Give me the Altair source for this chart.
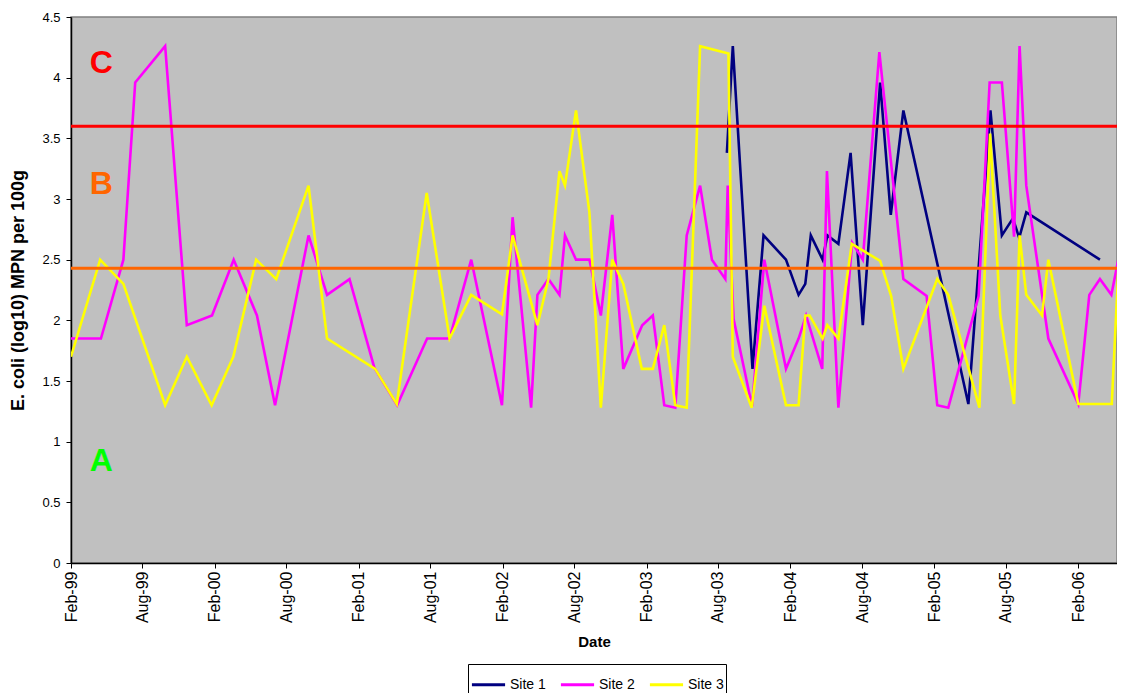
import altair as alt
import pandas as pd

# ---------------- data ----------------
site1_dates = ["2003-08-24", "2003-09-08", "2003-10-28", "2003-11-25", "2004-01-21", "2004-02-22",
               "2004-03-10", "2004-03-24", "2004-04-23", "2004-05-05", "2004-06-02", "2004-07-03",
               "2004-08-03", "2004-09-16", "2004-10-13", "2004-11-14", "2005-04-28", "2005-06-23",
               "2005-07-22", "2005-08-19", "2005-09-04", "2005-09-22", "2006-03-28"]
site1_values = [3.38, 4.26, 1.60, 2.70, 2.50, 2.21, 2.30, 2.70, 2.50, 2.70, 2.63, 3.38,
                1.96, 3.96, 2.87, 3.73, 1.31, 3.73, 2.70, 2.84, 2.68, 2.89, 2.50]

site2_dates = ["1999-02-01", "1999-04-18", "1999-06-14", "1999-07-14", "1999-09-28", "1999-11-22",
               "2000-01-25", "2000-03-20", "2000-05-18", "2000-07-03", "2000-09-26", "2000-11-12",
               "2001-01-08", "2001-03-12", "2001-05-09", "2001-07-24", "2001-09-19", "2001-11-13",
               "2002-01-30", "2002-02-26", "2002-04-14", "2002-04-30", "2002-05-28", "2002-06-25",
               "2002-07-09", "2002-08-06", "2002-09-09", "2002-10-08", "2002-11-06", "2002-12-04",
               "2003-01-21", "2003-02-17", "2003-03-18", "2003-04-15", "2003-05-14", "2003-06-17",
               "2003-07-17", "2003-08-20", "2003-08-26", "2003-09-10", "2003-10-27", "2003-11-27",
               "2004-01-21", "2004-02-22", "2004-03-12", "2004-04-22", "2004-05-04", "2004-06-02",
               "2004-07-07", "2004-08-03", "2004-09-14", "2004-11-14", "2005-01-12", "2005-02-08",
               "2005-03-08", "2005-05-24", "2005-06-21", "2005-07-22", "2005-08-22", "2005-09-05",
               "2005-09-22", "2005-11-17", "2006-02-01", "2006-03-01", "2006-03-28", "2006-04-26",
               "2006-05-25", "2006-06-01"]
site2_values = [1.85, 1.85, 2.50, 3.96, 4.26, 1.96,
                2.04, 2.50, 2.04, 1.30, 2.70, 2.21,
                2.34, 1.61, 1.30, 1.85, 1.85, 2.50,
                1.30, 2.85, 1.28, 2.21, 2.34, 2.21,
                2.70, 2.50, 2.50, 2.04, 2.87, 1.60,
                1.96, 2.04, 1.30, 1.28, 2.70, 3.11,
                2.50, 2.34, 3.11, 2.01, 1.29, 2.50,
                1.60, 1.85, 2.04, 1.60, 3.23, 1.28,
                2.64, 2.50, 4.21, 2.34, 2.20, 1.30,
                1.28, 2.20, 3.96, 3.96, 2.69, 4.26,
                3.11, 1.85, 1.31, 2.21, 2.34, 2.21,
                2.69, 2.04]

site3_dates = ["1999-02-01", "1999-04-16", "1999-06-14", "1999-09-28", "1999-11-22",
               "2000-01-24", "2000-03-19", "2000-05-16", "2000-07-06", "2000-09-26", "2000-11-12",
               "2001-03-14", "2001-05-08", "2001-07-23", "2001-09-19", "2001-11-13",
               "2002-01-30", "2002-02-26", "2002-04-30", "2002-05-28", "2002-06-25", "2002-07-09",
               "2002-08-06", "2002-09-09", "2002-10-08", "2002-11-06", "2002-12-04",
               "2003-01-20", "2003-02-17", "2003-03-18", "2003-04-15", "2003-05-14", "2003-06-17",
               "2003-08-28", "2003-09-08", "2003-10-26", "2003-11-27",
               "2004-01-21", "2004-02-22", "2004-03-10", "2004-03-21", "2004-04-23", "2004-05-05",
               "2004-06-02", "2004-07-06", "2004-09-16", "2004-10-14", "2004-11-14",
               "2005-02-08", "2005-03-08", "2005-05-26", "2005-06-22", "2005-07-18", "2005-08-22",
               "2005-09-05", "2005-09-22", "2005-11-01", "2005-11-17",
               "2006-02-01", "2006-04-27", "2006-05-24", "2006-06-01"]
site3_values = [1.70, 2.50, 2.30, 1.30, 1.70,
                1.30, 1.70, 2.50, 2.34, 3.11, 1.85,
                1.60, 1.31, 3.05, 1.85, 2.21,
                2.05, 2.70, 1.96, 2.34, 3.23, 3.11,
                3.73, 2.89, 1.28, 2.50, 2.30,
                1.60, 1.60, 1.96, 1.30, 1.28, 4.26,
                4.20, 1.70, 1.28, 2.12,
                1.30, 1.30, 2.04, 2.04, 1.85, 1.96,
                1.85, 2.63, 2.49, 2.20, 1.60,
                2.34, 2.21, 1.28, 3.54, 2.04, 1.31,
                2.70, 2.21, 2.04, 2.50,
                1.31, 1.31, 3.11, 2.80]

sites = ["Site 1", "Site 2", "Site 3"]
site_colors = ["#000080", "#FF00FF", "#FFFF00"]

threshold_values = [3.6, 2.43]
threshold_colors = ["#FF0000", "#FF6600"]

zone_labels = ["C", "B", "A"]
zone_values = [4.12, 3.12, 0.84]
zone_dates = ["1999-04-19", "1999-04-19", "1999-04-19"]
zone_colors = ["#FF0000", "#FF6600", "#00FF00"]

x_tick_dates = ["1999-02-01", "1999-08-01", "2000-02-01", "2000-08-01", "2001-02-01",
                "2001-08-01", "2002-02-01", "2002-08-01", "2003-02-01", "2003-08-01",
                "2004-02-01", "2004-08-01", "2005-02-01", "2005-08-01", "2006-02-01"]
y_ticks = [0, 0.5, 1, 1.5, 2, 2.5, 3, 3.5, 4, 4.5]

# ---------------- tables ----------------
rows = []
for name, ds, vs in zip(sites, [site1_dates, site2_dates, site3_dates],
                        [site1_values, site2_values, site3_values]):
    for d, v in zip(ds, vs):
        rows.append({"Site": name, "Date": d, "Value": v})
df = pd.DataFrame(rows)

thr_df = pd.DataFrame({"y": threshold_values, "c": threshold_colors})
zone_df = pd.DataFrame({"label": zone_labels, "y": zone_values, "Date": zone_dates, "c": zone_colors})


def dt(s):
    y, m, d = s.split("-")
    return alt.DateTime(year=int(y), month=int(m), date=int(d), utc=True)


x_scale = alt.Scale(type="utc", nice=False,
                    domain=[alt.DateTime(year=1999, month=2, date=1, utc=True),
                            alt.DateTime(year=2006, month=5, date=10, hours=7, utc=True)])
y_scale = alt.Scale(domain=[0, 4.5], nice=False, zero=False)

x_axis = alt.Axis(values=[dt(s) for s in x_tick_dates],
                  labelExpr="utcFormat(datum.value, '%b-%y')",
                  labelAngle=-90, labelFontSize=16, labelPadding=3, tickSize=5,
                  title="Date", titleFontSize=15, titleFontWeight="bold",
                  titleY=78, titleBaseline="middle", grid=False)
y_axis = alt.Axis(values=y_ticks, format="~g", labelFontSize=13, labelPadding=6, tickSize=5,
                  title="E. coli (log10) MPN per 100g", titleFontSize=18, titleFontWeight="bold",
                  titleX=-53, titleY=273, titleAngle=270, titleBaseline="middle",
                  titleAlign="center", grid=False)

lines = alt.Chart(df).mark_line(strokeWidth=2.6, clip=True).encode(
    x=alt.X("Date:T", scale=x_scale, axis=x_axis),
    y=alt.Y("Value:Q", scale=y_scale, axis=y_axis),
    color=alt.Color("Site:N",
                    scale=alt.Scale(domain=sites, range=site_colors),
                    legend=alt.Legend(title=None, orient="none", direction="horizontal",
                                      legendX=397, legendY=647,
                                      symbolType="stroke", symbolSize=1100, symbolStrokeWidth=3,
                                      labelFontSize=14, labelFont="Liberation Sans",
                                      columnPadding=8, symbolOffset=0, labelOffset=3,
                                      padding=2, strokeColor="black", fillColor="white")),
    order=alt.Order("Date:T"),
)

rules = alt.Chart(thr_df).mark_rule(strokeWidth=3).encode(
    y=alt.Y("y:Q", scale=y_scale),
    color=alt.Color("c:N", scale=None, legend=None),
)

letters = alt.Chart(zone_df).mark_text(fontSize=32, fontWeight="bold", font="Liberation Sans",
                                       align="center", baseline="middle").encode(
    x=alt.X("Date:T", scale=x_scale),
    y=alt.Y("y:Q", scale=y_scale),
    text="label:N",
    color=alt.Color("c:N", scale=None, legend=None),
)

chart = alt.layer(lines, rules, letters).resolve_scale(color="independent").properties(
    width=1046, height=546,
    autosize=alt.AutoSizeParams(type="none"),
    padding={"left": 63, "top": 9, "right": 0, "bottom": 140},
    background="white",
).configure_view(
    fill="#C0C0C0", stroke="#808080", strokeWidth=1.5
).configure_axis(
    domainColor="black", tickColor="black", labelColor="black", titleColor="black",
    labelFont="Liberation Sans", titleFont="Liberation Sans", domainWidth=1.5
)

chart.save("out.html", embed_options={"renderer": "svg", "actions": False})
